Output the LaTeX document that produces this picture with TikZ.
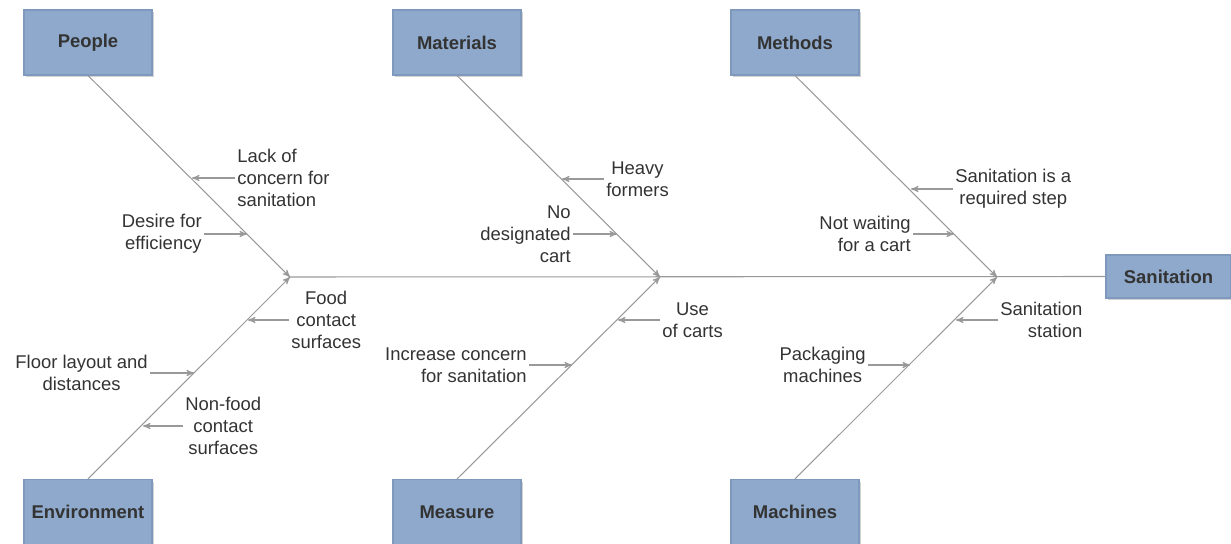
\documentclass[tikz,border=0pt]{standalone}
\usepackage{fontspec}
\setmainfont{Liberation Sans}
\usepackage{tikz}
\usetikzlibrary{arrows,shadows}
\definecolor{boxblue}{HTML}{8EA9CB}
\definecolor{boxedge}{HTML}{7F99BC}
\definecolor{bonegray}{HTML}{999999}
\definecolor{txtgray}{HTML}{333333}

\begin{document}
\begin{tikzpicture}[x=0.02cm,y=-0.02cm,>=stealth',line width=0.6pt]
  \tikzstyle{category}=[rectangle,draw=boxedge,fill=boxblue,minimum width=2.56cm,minimum height=1.3cm,
                        text=txtgray,font=\fontsize{10.5}{12}\selectfont\bfseries,
                        drop shadow={opacity=0.35,shadow xshift=1.2pt,shadow yshift=-1.2pt}]
  \tikzstyle{cause}=[text=txtgray,font=\fontsize{10.5}{12.4}\selectfont,inner sep=1pt]
  \tikzstyle{bone}=[draw=bonegray,->]

  \useasboundingbox (0,0) rectangle (1231,544);

  % categories
  \node[category] (people)      at (88,42.5)  {People};
  \node[category] (materials)   at (457,42.5) {Materials};
  \node[category] (methods)     at (795,42.5) {Methods};
  \node[category] (environment) at (88,512)   {Environment};
  \node[category] (measure)     at (457,512)  {Measure};
  \node[category] (machines)    at (795,512)  {Machines};
  \node[category,minimum width=2.5cm,minimum height=0.86cm] (sanitation) at (1168.5,276.5) {Sanitation};

  % spine
  \coordinate (j1) at (290,277);
  \coordinate (j2) at (660,277);
  \coordinate (j3) at (997,277);

  % causes
  \node[cause,anchor=west,align=left]   (lack)     at (235,178) {Lack of\\concern for\\sanitation};
  \node[cause,anchor=east,align=right]  (desire)   at (204,234) {Desire for\\efficiency};
  \node[cause,anchor=west,align=center] (food)     at (289,320) {Food\\contact\\surfaces};
  \node[cause,anchor=east,align=center] (floor)    at (150,373) {Floor layout and\\distances};
  \node[cause,anchor=west,align=center] (nonfood)  at (183,426) {Non-food\\contact\\surfaces};
  \node[cause,anchor=west,align=center] (heavy)    at (604,179) {Heavy\\formers};
  \node[cause,anchor=east,align=right]  (nocart)   at (573,234) {No\\designated\\cart};
  \node[cause,anchor=west,align=center] (usecarts) at (660,320) {Use\\of carts};
  \node[cause,anchor=east,align=right]  (increase) at (529,365) {Increase concern\\for sanitation};
  \node[cause,anchor=west,align=center] (reqstep)  at (953,189) {Sanitation is a\\required step};
  \node[cause,anchor=east,align=right]  (notwait)  at (913,234) {Not waiting\\for a cart};
  \node[cause,anchor=west,align=right]  (station)  at (998,320) {Sanitation\\station};
  \node[cause,anchor=east,align=center] (packing)  at (868,365) {Packaging\\machines};

  % points on the bones
  \coordinate (p1) at (192,178);
  \coordinate (p2) at (247,234);
  \coordinate (e1) at (248,320);
  \coordinate (e2) at (194,373);
  \coordinate (e3) at (143,426);
  \coordinate (m1) at (562,179);
  \coordinate (m2) at (617,234);
  \coordinate (s1) at (618,320);
  \coordinate (s2) at (572,365);
  \coordinate (t1) at (911,189);
  \coordinate (t2) at (954,234);
  \coordinate (c1) at (956,320);
  \coordinate (c2) at (910,365);

  \draw[draw=bonegray] (j1) -- (sanitation.west);
  \path
  (people.south)      edge[bone] (j1)
  (environment.north) edge[bone] (j1)
  (materials.south)   edge[bone] (j2)
  (measure.north)     edge[bone] (j2)
  (methods.south)     edge[bone] (j3)
  (machines.north)    edge[bone] (j3)
  (lack.west)         edge[bone] (p1)
  (desire.east)       edge[bone] (p2)
  (food.west)         edge[bone] (e1)
  (floor.east)        edge[bone] (e2)
  (nonfood.west)      edge[bone] (e3)
  (heavy.west)        edge[bone] (m1)
  (nocart.east)       edge[bone] (m2)
  (usecarts.west)     edge[bone] (s1)
  (increase.east)     edge[bone] (s2)
  (reqstep.west)      edge[bone] (t1)
  (notwait.east)      edge[bone] (t2)
  (station.west)      edge[bone] (c1)
  (packing.east)      edge[bone] (c2);
\end{tikzpicture}
\end{document}
